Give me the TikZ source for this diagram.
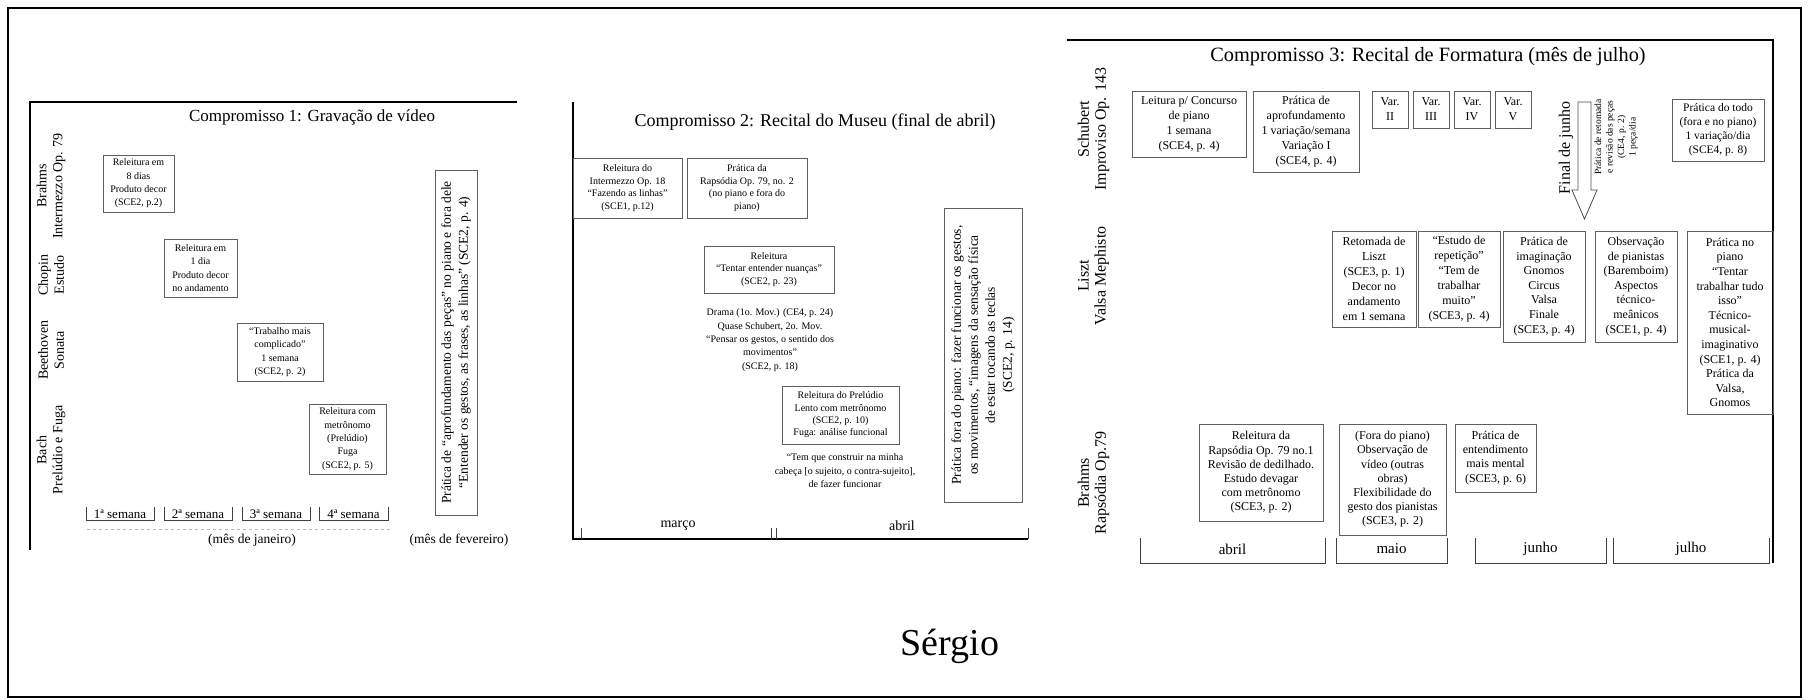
\documentclass[tikz,border=0pt]{standalone}
\usepackage{fontspec}
\setmainfont{Liberation Serif}
\definecolor{boxgray}{RGB}{95,95,95}
\begin{document}
\begin{tikzpicture}[x=1pt,y=-1pt,
  bx/.style={draw=boxgray,line width=0.9pt,align=center,inner sep=1pt},
  fa/.style={font=\fontsize{10}{13.3}\selectfont},
  fb/.style={font=\fontsize{10}{12.4}\selectfont},
  fc/.style={font=\fontsize{12}{15}\selectfont},
  fd/.style={font=\fontsize{12}{14.2}\selectfont},
  lab/.style={align=center,rotate=90,font=\fontsize{14}{16}\selectfont},
  labc/.style={align=center,rotate=90,font=\fontsize{16}{17}\selectfont},
  ttl/.style={font=\fontsize{17}{20}\selectfont},
  axisline/.style={line width=1.1pt,draw=black},
  brk/.style={line width=0.8pt,draw=black!75},
  rotbox/.style={bx,rotate=90,font=\fontsize{13.5}{17}\selectfont},
  plain/.style={align=center},
]
\useasboundingbox (0,0) rectangle (1809,700);
\draw[line width=1.5pt] (8,8) rectangle (1801,697);

% ---------------- Compromisso 1
\draw[axisline] (517,102) -- (30,102) -- (30,550);
\node[ttl] (t1) at (312,117) {Compromisso 1: Gravação de vídeo};
\node[lab] (l1a) at (51,186) {Brahms\\Intermezzo Op. 79};
\node[lab] (l1b) at (51,275) {Chopin\\Estudo};
\node[lab] (l1c) at (51,350) {Beethoven\\Sonata};
\node[lab] (l1d) at (51,450) {Bach\\Prelúdio e Fuga};

\node[bx,fa,minimum width=71,minimum height=57] (c1a) at (138.5,183.5) {Releitura em\\8 dias\\Produto decor\\(SCE2, p.2)};
\node[bx,fa,minimum width=73,minimum height=58] (c1b) at (200.5,268) {Releitura em\\1 dia\\Produto decor\\no andamento};
\node[bx,fa,minimum width=86,minimum height=58] (c1c) at (280,352) {“Trabalho mais\\complicado”\\1 semana\\(SCE2, p. 2)};
\node[bx,fa,minimum width=77,minimum height=70] (c1d) at (347.5,439) {Releitura com\\metrônomo\\(Prelúdio)\\Fuga\\(SCE2, p. 5)};
\node[rotbox,minimum width=345,minimum height=42] (c1r) at (456,342.5) {Prática de “aprofundamento das peças” no piano e fora dele\\“Entender os gestos, as frases, as linhas” (SCE2, p. 4)};

\foreach \a/\b/\t [count=\i] in {86/154/1ª semana,164/232/2ª semana,242/310/3ª semana,319/388/4ª semana}{
  \draw[brk] (\a,507) -- (\a,520) -- (\b,520) -- (\b,507);
  \node[font=\fontsize{13}{15}\selectfont,anchor=base] (w\i) at ({(\a+\b)/2},518) {\t};
}
\draw[gray!55,dashed,line width=0.8pt] (87,529) -- (392,529);
\node[font=\fontsize{13.5}{15}\selectfont] (jan) at (252,540) {(mês de janeiro)};
\node[font=\fontsize{13.5}{15}\selectfont] (fev) at (459,540) {(mês de fevereiro)};

% ---------------- Compromisso 2
\draw[axisline] (573,102) -- (573,539) -- (1028,539);
\foreach \x in {581,771,776,1028}{\draw[brk] (\x,539) -- (\x,528);}
\node[font=\fontsize{18}{21}\selectfont] (t2) at (815,122) {Compromisso 2: Recital do Museu (final de abril)};
\node[bx,fb,minimum width=109,minimum height=60] (c2a) at (627.5,188) {Releitura do\\Intermezzo Op. 18\\“Fazendo as linhas”\\(SCE1, p.12)};
\node[bx,fb,minimum width=120,minimum height=60] (c2b) at (747,188) {Prática da\\Rapsódia Op. 79, no. 2\\(no piano e fora do\\piano)};
\node[bx,fb,minimum width=130,minimum height=47] (c2c) at (769,269.5) {Releitura\\“Tentar entender nuanças”\\(SCE2, p. 23)};
\node[plain,fa] (c2t) at (770,340) {Drama (1o. Mov.) (CE4, p. 24)\\Quase Schubert, 2o. Mov.\\“Pensar os gestos, o sentido dos\\movimentos”\\(SCE2, p. 18)};
\node[bx,fb,minimum width=117,minimum height=58] (c2d) at (840.5,415) {Releitura do Prelúdio\\Lento com metrônomo\\(SCE2, p. 10)\\Fuga: análise funcional};
\node[plain,font=\fontsize{10}{13.5}\selectfont] (c2u) at (845,471) {“Tem que construir na minha\\cabeça [o sujeito, o contra-sujeito],\\de fazer funcionar};
\node[rotbox,minimum width=294,minimum height=78] (c2r) at (983,355) {Prática fora do piano: fazer funcionar os gestos,\\os movimentos, “imagens da sensação física\\de estar tocando as teclas\\(SCE2, p. 14)};
\node[font=\fontsize{14}{16}\selectfont] (mar) at (678,526) {março};
\node[font=\fontsize{14}{16}\selectfont] (abr2) at (902,526) {abril};

% ---------------- Compromisso 3
\draw[axisline] (1067,40) -- (1773,40) -- (1773,563);
\node[font=\fontsize{20.3}{23}\selectfont] (t3) at (1428,57) {Compromisso 3: Recital de Formatura (mês de julho)};
\node[labc] (l3a) at (1093.5,129) {Schubert\\Improviso Op. 143};
\node[labc] (l3b) at (1093.5,276) {Liszt\\Valsa Mephisto};
\node[labc] (l3c) at (1093.5,483) {Brahms\\Rapsódia Op.79};

\node[bx,fc,minimum width=114,minimum height=66] (r1a) at (1189,124) {Leitura p/ Concurso\\de piano\\1 semana\\(SCE4, p. 4)};
\node[bx,fc,minimum width=106,minimum height=81] (r1b) at (1306,131.5) {Prática de\\aprofundamento\\1 variação/semana\\Variação I\\(SCE4, p. 4)};
\foreach \x/\v in {1390/II,1431/III,1472/IV,1513/V}{
  \node[bx,fc,minimum width=36,minimum height=37] (var\v) at (\x,109.5) {Var.\\\v};
}
\draw[line width=0.8pt,draw=black!70] (1578,102) -- (1591,102) -- (1591,190) -- (1597,190) -- (1584.5,219) -- (1572,190) -- (1578,190) -- cycle;
\node[rotate=90,font=\fontsize{16}{18}\selectfont] (fj) at (1566,148) {Final de junho};
\node[rotate=90,align=center,font=\fontsize{9.5}{11.5}\selectfont] (ret) at (1616,137) {Prática de retomada\\e revisão das peças\\(CE4, p. 2)\\1 peça/dia};
\node[bx,font=\fontsize{11.5}{14}\selectfont,minimum width=92,minimum height=62] (r1c) at (1718,130) {Prática do todo\\(fora e no piano)\\1 variação/dia\\(SCE4, p. 8)};

\node[bx,fc,minimum width=84,minimum height=96] (r2a) at (1374,279) {Retomada de\\Liszt\\(SCE3, p. 1)\\Decor no\\andamento\\em 1 semana};
\node[bx,fc,minimum width=82,minimum height=96] (r2b) at (1459,279) {“Estudo de\\repetição”\\“Tem de\\trabalhar\\muito”\\(SCE3, p. 4)};
\node[bx,font=\fontsize{12}{14.6}\selectfont,minimum width=82,minimum height=111] (r2c) at (1544,286.5) {Prática de\\imaginação\\Gnomos\\Circus\\Valsa\\Finale\\(SCE3, p. 4)};
\node[bx,font=\fontsize{12}{14.6}\selectfont,minimum width=82,minimum height=111] (r2d) at (1636,286.5) {Observação\\de pianistas\\(Baremboim)\\Aspectos\\técnico-\\meânicos\\(SCE1, p. 4)};
\node[bx,font=\fontsize{12}{14.6}\selectfont,minimum width=86,minimum height=183] (r2e) at (1730,322.5) {Prática no\\piano\\“Tentar\\trabalhar tudo\\isso”\\Técnico-\\musical-\\imaginativo\\(SCE1, p. 4)\\Prática da\\Valsa,\\Gnomos};

\node[bx,fd,minimum width=124,minimum height=97] (r3a) at (1261,472.5) {Releitura da\\Rapsódia Op. 79 no.1\\Revisão de dedilhado.\\Estudo devagar\\com metrônomo\\(SCE3, p. 2)};
\node[bx,fd,minimum width=107,minimum height=111] (r3b) at (1392.5,479.5) {(Fora do piano)\\Observação de\\vídeo (outras\\obras)\\Flexibilidade do\\gesto dos pianistas\\(SCE3, p. 2)};
\node[bx,fd,minimum width=81,minimum height=68] (r3c) at (1495.5,458) {Prática de\\entendimento\\mais mental\\(SCE3, p. 6)};

\foreach \a/\b/\t [count=\i] in {1140/1325/abril,1336/1447/maio,1475/1606/junho,1613/1769/julho}{
  \draw[brk] (\a,538) -- (\a,563) -- (\b,563) -- (\b,538);
  \node[font=\fontsize{15}{17}\selectfont] (m\i) at ({(\a+\b)/2},549) {\t};
}

\node[font=\fontsize{38}{44}\selectfont] (name) at (950,646) {Sérgio};
\end{tikzpicture}
\end{document}
